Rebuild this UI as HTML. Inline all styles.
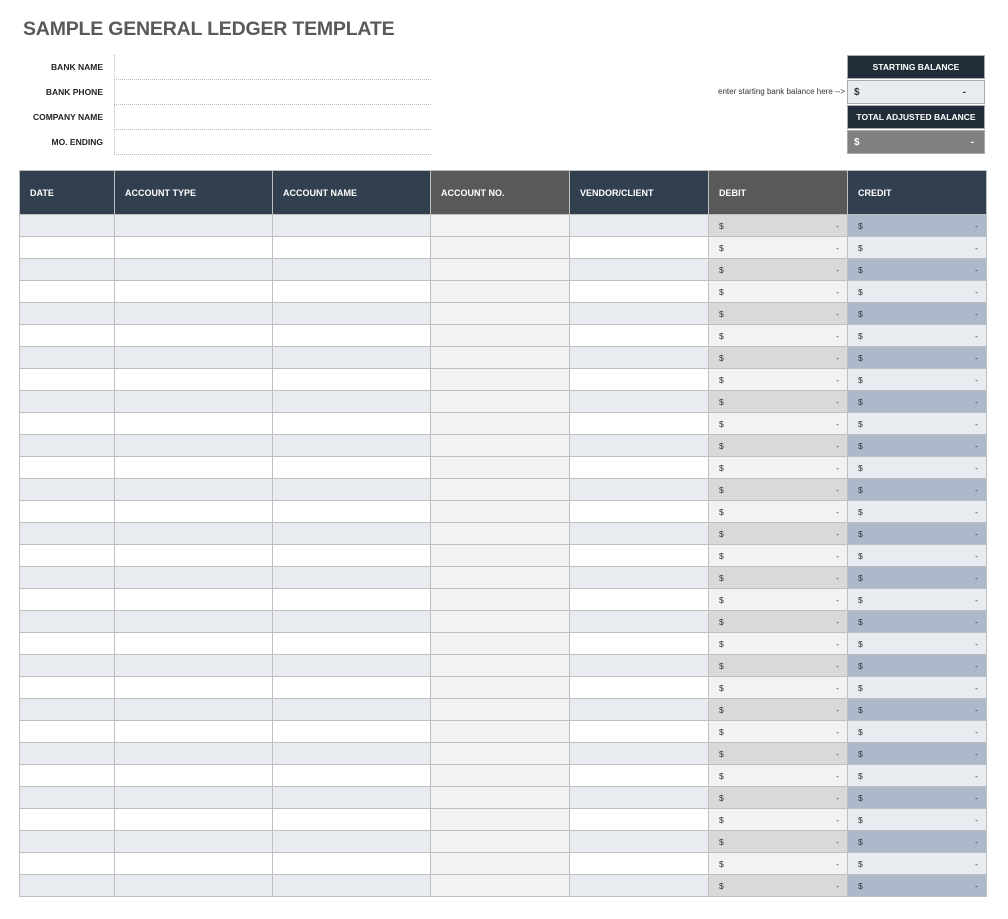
<!DOCTYPE html>
<html><head><style>
body{margin:0;width:1008px;height:919px;background:#fff;font-family:"Liberation Sans",sans-serif;position:relative;overflow:hidden}
.t{position:absolute;left:23px;top:18px;font-size:19.5px;font-weight:bold;color:#595959;letter-spacing:-0.2px}
.lab{position:absolute;right:905px;font-size:8.5px;font-weight:bold;color:#222;white-space:nowrap}
.fld{position:absolute;left:114px;width:316px;height:24px;border-left:1px dotted #bbb;border-bottom:1px dotted #bbb}
.bx{position:absolute;left:847px;width:138px;height:24px;font-size:8.5px;font-weight:bold;box-sizing:border-box;border:1px solid #aaa}
table{position:absolute;left:19px;top:170px;border-collapse:collapse;table-layout:fixed}
td,th{border:1px solid #bfbfbf;padding:0;height:21px;font-size:8.5px}
th{height:43px;color:#fff;text-align:left;padding-left:10px;background:#323f4f;font-weight:bold;font-size:9px}
.g{background:#595959}
tr.s td{background:#e8ebf0}
td.a{background:#f2f2f2!important}
td.d{background:#f2f2f2}
tr.s td.d{background:#d9d9d9}
td.c{background:#e8ebf0}
tr.s td.c{background:#acb9ca}
.m{display:flex;justify-content:space-between;padding:0 8px 0 10px;color:#333}
</style></head><body>
<div class="t">SAMPLE GENERAL LEDGER TEMPLATE</div>
<div class="lab" style="top:62px">BANK NAME</div>
<div class="lab" style="top:87px">BANK PHONE</div>
<div class="lab" style="top:112px">COMPANY NAME</div>
<div class="lab" style="top:137px">MO. ENDING</div>
<div class="fld" style="top:55px"></div>
<div class="fld" style="top:80px"></div>
<div class="fld" style="top:105px"></div>
<div class="fld" style="top:130px"></div>
<div style="position:absolute;right:163px;top:87px;font-size:8px;color:#333">enter starting bank balance here --&gt;</div>
<div class="bx" style="top:55px;background:#222b38;color:#fff;text-align:center;line-height:23px">STARTING BALANCE</div>
<div class="bx" style="top:80px;background:#e8ebf0;color:#000;line-height:23px;font-size:10px"><div class="m" style="padding:0 18px 0 6px"><span>$</span><span>-</span></div></div>
<div class="bx" style="top:105px;background:#222b38;color:#fff;text-align:center;line-height:23px">TOTAL ADJUSTED BALANCE</div>
<div class="bx" style="top:130px;background:#808080;color:#fff;line-height:23px;font-size:10px"><div class="m" style="padding:0 10px 0 6px;color:#fff"><span>$</span><span>-</span></div></div>
<table>
<colgroup><col style="width:95px"><col style="width:158px"><col style="width:158px"><col style="width:139px"><col style="width:139px"><col style="width:139px"><col style="width:139px"></colgroup>
<tr><th>DATE</th><th>ACCOUNT TYPE</th><th>ACCOUNT NAME</th><th class="g">ACCOUNT NO.</th><th>VENDOR/CLIENT</th><th class="g">DEBIT</th><th>CREDIT</th></tr>
<script>
for(let i=0;i<31;i++){document.write('<tr'+(i%2==0?' class="s"':'')+'><td></td><td></td><td></td><td class="a"></td><td></td><td class="d"><div class="m"><span>$</span><span>-</span></div></td><td class="c"><div class="m"><span>$</span><span>-</span></div></td></tr>')}
</script>
</table>
</body></html>
